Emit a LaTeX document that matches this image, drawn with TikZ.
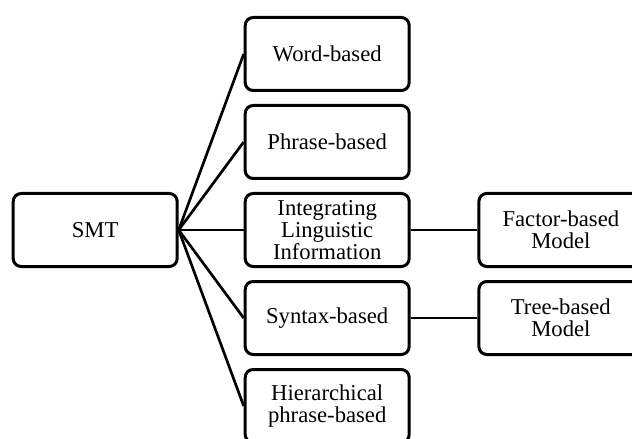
\documentclass[tikz,border=0pt]{standalone}
\usepackage{fontspec}
\setmainfont{Liberation Serif}
\usetikzlibrary{positioning}

\begin{document}
\begin{tikzpicture}[-,auto,node distance=9pt and 48.75pt,line width=2pt,box node/.style={draw,rounded corners=6pt,line width=2.25pt,minimum width=123pt,minimum height=54.75pt,inner sep=2pt,align=center,font=\fontsize{17}{16.5}\selectfont}]

            \useasboundingbox (-71.4pt,172.5pt) rectangle (402.6pt,-156.75pt);
            \clip (-71.4pt,172.5pt) rectangle (402.6pt,-156.75pt);

            \node[box node] (1) []{SMT};
            \node[box node] (4) [right=of 1]{Integrating\\Linguistic\\Information};
            \node[box node] (3) [above=of 4]{Phrase-based};
            \node[box node] (2) [above=of 3]{Word-based};
            \node[box node] (5) [below=of 4]{Syntax-based};
            \node[box node] (6) [below=of 5]{Hierarchical\\phrase-based};
            \node[box node] (7) [right=50pt of 4]{Factor-based\\Model};
            \node[box node] (8) [right=50pt of 5]{Tree-based\\Model};

            \path
                (1.east) edge (2.west)
                (1.east) edge (3.west)
                (1.east) edge (4.west)
                (1.east) edge (5.west)
                (1.east) edge (6.west)
                (4) edge (7)
                (5) edge (8)
            ;
        \end{tikzpicture}
\end{document}
